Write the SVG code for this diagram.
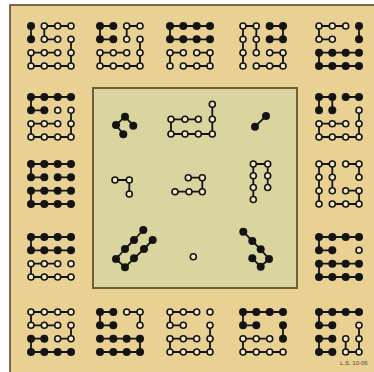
<svg xmlns="http://www.w3.org/2000/svg" xmlns:xlink="http://www.w3.org/1999/xlink" width="374" height="372" viewBox="0 0 374 372">
<style>
.ln{fill:none;stroke:#141414;stroke-width:1.8;stroke-linejoin:round;stroke-linecap:round}
.b{fill:#141414}
.w{fill:#f3e8c6;stroke:#141414;stroke-width:1.6}
.lbl{font-family:"Liberation Sans",Arial,sans-serif;font-size:6px;fill:#4a4636}
</style>
<defs>
<circle id="B" class="b" r="4"/>
<circle id="W" class="w" r="3"/>
<g id="BR"><use href="#B"/><use href="#B" x="13.3"/><use href="#B" x="26.7"/><use href="#B" x="40"/></g>
<g id="WR"><use href="#W"/><use href="#W" x="13.3"/><use href="#W" x="26.7"/><use href="#W" x="40"/></g>
<polyline id="p9" class="ln" points="40,13.3 40,26.7 40,40 26.7,40 13.3,40 0,40 0,26.7 13.3,26.7 26.7,26.7"/>
<polyline id="hook" class="ln" points="40,0 26.7,0 13.3,0 0,0 0,13.3 13.3,13.3"/>
<polyline id="hpB" class="ln" points="40,26.7 26.7,26.7 13.3,26.7 0,26.7 0,40 13.3,40 26.7,40 40,40"/>
<polyline id="hpT" class="ln" points="40,0 26.7,0 13.3,0 0,0 0,13.3 13.3,13.3 26.7,13.3 40,13.3"/>
<polyline id="f5TL" class="ln" points="13.3,13.3 0,13.3 0,0 13.3,0 26.7,0"/>
<polyline id="f5BR" class="ln" points="26.7,26.7 40,26.7 40,40 26.7,40 13.3,40"/>
<polyline id="s7L" class="ln" points="0,40 0,26.7 0,13.3 0,0 13.3,0 13.3,13.3 13.3,26.7"/>
<polyline id="s7B" class="ln" points="26.7,26.7 13.3,26.7 0,26.7 0,40 13.3,40 26.7,40 40,40"/>
</defs>
<rect x="10" y="5" width="380" height="380" fill="#e8d193" stroke="#4e4328" stroke-width="1.5"/>
<rect id="center-panel" x="93" y="88" width="204" height="200" fill="#dad59f" stroke="#6e6136" stroke-width="2"/>

<g id="tile-1-1" transform="translate(31,26)">
<polyline class="ln" points="0,0 0,13.3"/>
<polyline class="ln" points="26.7,13.3 13.3,13.3 13.3,0 26.7,0 40,0"/><use href="#p9"/>
<use href="#B"/><use href="#W" x="13.3"/><use href="#W" x="26.7"/><use href="#W" x="40"/>
<use href="#B" y="13.3"/><use href="#W" x="13.3" y="13.3"/><use href="#W" x="26.7" y="13.3"/><use href="#W" x="40" y="13.3"/>
<use href="#WR" y="26.7"/><use href="#WR" y="40"/>
</g>
<g id="tile-1-2" transform="translate(100,26)">
<polyline class="ln" points="13.3,0 0,0 0,13.3 13.3,13.3"/><polyline class="ln" points="26.7,13.3 26.7,0 40,0"/><use href="#p9"/>
<use href="#B"/><use href="#B" x="13.3"/><use href="#W" x="26.7"/><use href="#W" x="40"/>
<use href="#B" y="13.3"/><use href="#B" x="13.3" y="13.3"/><use href="#W" x="26.7" y="13.3"/><use href="#W" x="40" y="13.3"/>
<use href="#WR" y="26.7"/><use href="#WR" y="40"/>
</g>
<g id="tile-1-3" transform="translate(170,26)">
<use href="#hpT"/><polyline class="ln" points="13.3,26.7 0,26.7 0,40"/><use href="#f5BR"/>
<use href="#BR"/><use href="#BR" y="13.3"/><use href="#WR" y="26.7"/><use href="#WR" y="40"/>
</g>
<g id="tile-1-4" transform="translate(243,26)">
<polyline class="ln" points="26.7,0 40,0 40,13.3 26.7,13.3"/><use href="#s7L"/><use href="#f5BR"/>
<use href="#W"/><use href="#W" x="13.3"/><use href="#B" x="26.7"/><use href="#B" x="40"/>
<use href="#W" y="13.3"/><use href="#W" x="13.3" y="13.3"/><use href="#B" x="26.7" y="13.3"/><use href="#B" x="40" y="13.3"/>
<use href="#WR" y="26.7"/><use href="#WR" y="40"/>
</g>
<g id="tile-1-5" transform="translate(319,26)">
<use href="#f5TL"/><polyline class="ln" points="40,0 40,13.3"/><use href="#hpB"/>
<use href="#W"/><use href="#W" x="13.3"/><use href="#W" x="26.7"/><use href="#B" x="40"/>
<use href="#W" y="13.3"/><use href="#W" x="13.3" y="13.3"/><use href="#B" x="40" y="13.3"/>
<use href="#BR" y="26.7"/><use href="#BR" y="40"/>
</g>

<g id="tile-2-1" transform="translate(31,97)">
<use href="#hook"/><use href="#p9"/>
<use href="#BR"/>
<use href="#B" y="13.3"/><use href="#B" x="13.3" y="13.3"/><use href="#W" x="26.7" y="13.3"/><use href="#W" x="40" y="13.3"/>
<use href="#WR" y="26.7"/><use href="#WR" y="40"/>
</g>
<g id="tile-3-1" transform="translate(31,164)">
<use href="#hook"/><polyline class="ln" points="26.7,13.3 40,13.3"/><use href="#hpB"/>
<use href="#BR"/><use href="#BR" y="13.3"/><use href="#BR" y="26.7"/><use href="#BR" y="40"/>
</g>
<g id="tile-4-1" transform="translate(31,237)">
<use href="#hpT"/><use href="#s7B"/>
<use href="#BR"/><use href="#BR" y="13.3"/><use href="#WR" y="26.7"/><use href="#WR" y="40"/>
</g>
<g id="tile-5-1" transform="translate(31,312)">
<polyline class="ln" points="40,0 26.7,0 13.3,0 0,0 0,13.3 13.3,13.3 26.7,13.3"/><polyline class="ln" points="40,13.3 40,26.7 26.7,26.7"/><polyline class="ln" points="13.3,26.7 0,26.7 0,40 13.3,40 26.7,40 40,40"/>
<use href="#WR"/><use href="#WR" y="13.3"/>
<use href="#B" y="26.7"/><use href="#B" x="13.3" y="26.7"/><use href="#W" x="26.7" y="26.7"/><use href="#W" x="40" y="26.7"/>
<use href="#BR" y="40"/>
</g>
<g id="tile-5-2" transform="translate(100,312)">
<polyline class="ln" points="13.3,0 0,0 0,13.3 13.3,13.3"/><polyline class="ln" points="26.7,0 40,0 40,13.3"/><polyline class="ln" points="0,26.7 13.3,26.7 26.7,26.7 40,26.7 40,40 26.7,40 13.3,40 0,40"/>
<use href="#B"/><use href="#B" x="13.3"/><use href="#W" x="26.7"/><use href="#W" x="40"/>
<use href="#B" y="13.3"/><use href="#B" x="13.3" y="13.3"/><use href="#W" x="40" y="13.3"/>
<use href="#BR" y="26.7"/><use href="#BR" y="40"/>
</g>
<g id="tile-5-3" transform="translate(170,312)">
<use href="#f5TL"/><use href="#p9"/>
<use href="#WR"/>
<use href="#W" y="13.3"/><use href="#W" x="13.3" y="13.3"/><use href="#W" x="40" y="13.3"/>
<use href="#WR" y="26.7"/><use href="#WR" y="40"/>
</g>
<g id="tile-5-4" transform="translate(243,312)">
<use href="#hook"/><polyline class="ln" points="40,13.3 40,26.7"/><use href="#s7B"/>
<use href="#BR"/>
<use href="#B" y="13.3"/><use href="#B" x="13.3" y="13.3"/><use href="#B" x="40" y="13.3"/>
<use href="#W" y="26.7"/><use href="#W" x="13.3" y="26.7"/><use href="#W" x="26.7" y="26.7"/><use href="#B" x="40" y="26.7"/>
<use href="#WR" y="40"/>
</g>
<g id="tile-5-5" transform="translate(319,312)">
<use href="#hook"/><polyline class="ln" points="13.3,26.7 0,26.7 0,40 13.3,40"/><polyline class="ln" points="26.7,26.7 26.7,40 40,40 40,26.7 40,13.3"/>
<use href="#BR"/>
<use href="#B" y="13.3"/><use href="#B" x="13.3" y="13.3"/><use href="#W" x="40" y="13.3"/>
<use href="#B" y="26.7"/><use href="#B" x="13.3" y="26.7"/><use href="#W" x="26.7" y="26.7"/><use href="#W" x="40" y="26.7"/>
<use href="#B" y="40"/><use href="#B" x="13.3" y="40"/><use href="#W" x="26.7" y="40"/><use href="#W" x="40" y="40"/>
</g>

<g id="tile-2-5" transform="translate(319,97)">
<polyline class="ln" points="0,13.3 0,0 13.3,0 13.3,13.3"/><polyline class="ln" points="26.7,0 40,0"/><use href="#p9"/>
<use href="#BR"/>
<use href="#B" y="13.3"/><use href="#B" x="13.3" y="13.3"/><use href="#W" x="40" y="13.3"/>
<use href="#WR" y="26.7"/><use href="#WR" y="40"/>
</g>
<g id="tile-3-5" transform="translate(319,164)">
<use href="#s7L"/><polyline class="ln" points="26.7,0 40,0 40,13.3"/><use href="#f5BR"/>
<use href="#WR"/>
<use href="#W" y="13.3"/><use href="#W" x="13.3" y="13.3"/><use href="#W" x="40" y="13.3"/>
<use href="#WR" y="26.7"/><use href="#WR" y="40"/>
</g>
<g id="tile-4-5" transform="translate(319,237)">
<use href="#hook"/><use href="#hpB"/>
<use href="#BR"/>
<use href="#B" y="13.3"/><use href="#B" x="13.3" y="13.3"/><use href="#W" x="40" y="13.3"/>
<use href="#BR" y="26.7"/><use href="#BR" y="40"/>
</g>

<g id="piece-4">
<polyline class="ln" points="133.3,125.7 125,116.7 116,125 123.3,134.3"/>
<use href="#B" x="133.3" y="125.7"/><use href="#B" x="125" y="116.7"/><use href="#B" x="116" y="125"/><use href="#B" x="123.3" y="134.3"/>
</g>
<g id="piece-9">
<polyline class="ln" points="212.3,104.3 212.3,119.3 212.3,134 198.3,134 185,134 171,134 171,119.3 185,119.3 198.3,119.3"/>
<use href="#W" x="212.3" y="104.3"/><use href="#W" x="212.3" y="119.3"/><use href="#W" x="212.3" y="134"/><use href="#W" x="198.3" y="134"/><use href="#W" x="185" y="134"/><use href="#W" x="171" y="134"/><use href="#W" x="171" y="119.3"/><use href="#W" x="185" y="119.3"/><use href="#W" x="198.3" y="119.3"/>
</g>
<g id="piece-2">
<polyline class="ln" points="255,126.7 266,116"/>
<use href="#B" x="255" y="126.7"/><use href="#B" x="266" y="116"/>
</g>
<g id="piece-3">
<polyline class="ln" points="115,180 129.3,180 129.3,194"/>
<use href="#W" x="115" y="180"/><use href="#W" x="129.3" y="180"/><use href="#W" x="129.3" y="194"/>
</g>
<g id="piece-5">
<polyline class="ln" points="188.3,177.7 202.3,177.7 202.3,191.7 189,191.7 175,191.7"/>
<use href="#W" x="188.3" y="177.7"/><use href="#W" x="202.3" y="177.7"/><use href="#W" x="202.3" y="191.7"/><use href="#W" x="189" y="191.7"/><use href="#W" x="175" y="191.7"/>
</g>
<g id="piece-7">
<polyline class="ln" points="253.3,199.5 253.3,187.5 253.3,175.7 253.3,164 267.7,164 267.7,175.7 267.7,187.5"/>
<use href="#W" x="253.3" y="199.5"/><use href="#W" x="253.3" y="187.5"/><use href="#W" x="253.3" y="175.7"/><use href="#W" x="253.3" y="164"/><use href="#W" x="267.7" y="164"/><use href="#W" x="267.7" y="175.7"/><use href="#W" x="267.7" y="187.5"/>
</g>
<g id="piece-8">
<polyline class="ln" points="143.3,230 134,240 125,249 116,259 125,267.3 134,258.3 144,249 152.7,240"/>
<use href="#B" x="143.3" y="230"/><use href="#B" x="134" y="240"/><use href="#B" x="125" y="249"/><use href="#B" x="116" y="259"/><use href="#B" x="125" y="267.3"/><use href="#B" x="134" y="258.3"/><use href="#B" x="144" y="249"/><use href="#B" x="152.7" y="240"/>
</g>
<g id="piece-1">
<use href="#W" x="193.3" y="256.7"/>
</g>
<g id="piece-6">
<polyline class="ln" points="243.3,231.7 252.3,241 260.7,249.3 269,259 260.7,266.7 252.3,258.3"/>
<use href="#B" x="243.3" y="231.7"/><use href="#B" x="252.3" y="241"/><use href="#B" x="260.7" y="249.3"/><use href="#B" x="269" y="259"/><use href="#B" x="260.7" y="266.7"/><use href="#B" x="252.3" y="258.3"/>
</g>
<g id="connectors"></g>
<text class="lbl" x="340" y="365">L.S. 10-06</text>
</svg>
